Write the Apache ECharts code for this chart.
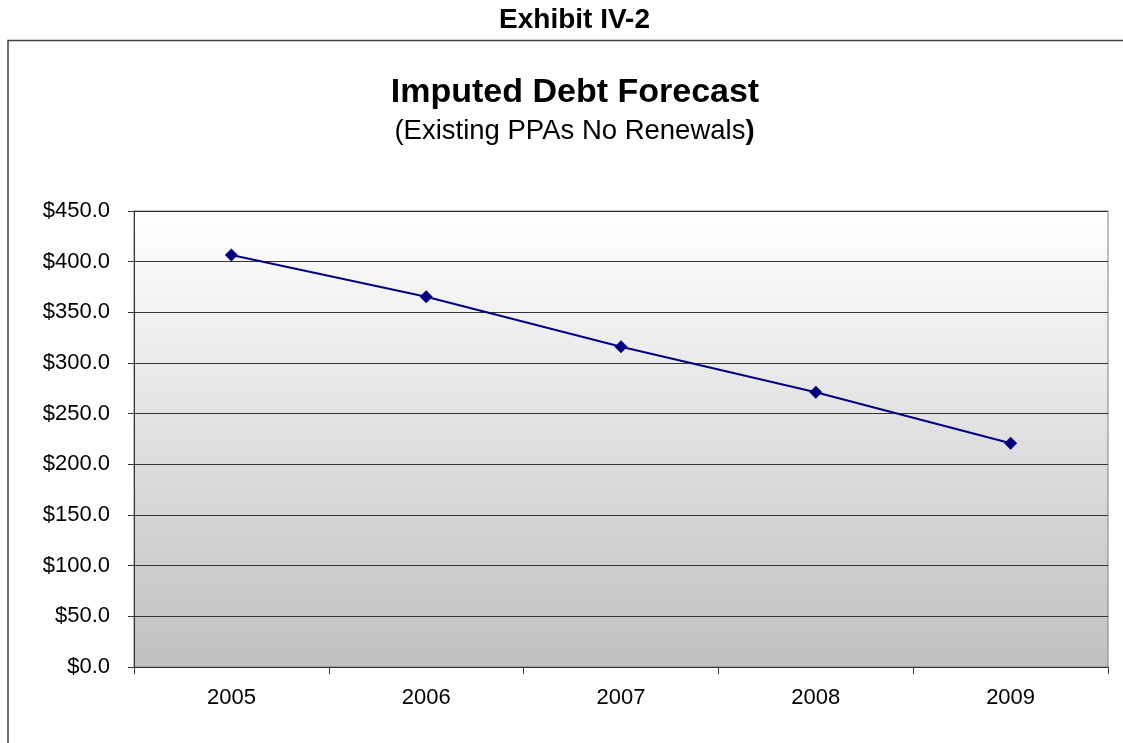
<!DOCTYPE html>
<html>
<head>
<meta charset="utf-8">
<script src="https://cdn.jsdelivr.net/npm/echarts@6/dist/echarts.min.js"></script>
<style>html,body{margin:0;padding:0;background:#fff;}#c{width:1123px;height:743px;}</style>
</head>
<body>
<div id="c"></div>
<script>
const categories = ['2005', '2006', '2007', '2008', '2009'];
const debtValues = [406.5, 365.4, 316.1, 271.1, 220.8];
const yMin = 0, yMax = 450, yStep = 50;
const exhibitText = 'Exhibit IV-2';
const titleText = 'Imputed Debt Forecast';
const subtitleMain = '(Existing PPAs No Renewals';
const subtitleClose = ')';

const FONT = 'Liberation Sans, Arial, sans-serif';
const chart = echarts.init(document.getElementById('c'));
chart.setOption({
  backgroundColor: '#ffffff',
  animation: false,
  graphic: [
    { type: 'polyline', silent: true, z: 100,
      shape: { points: [[8, 743], [8, 40.5], [1123, 40.5]] },
      style: { stroke: '#404040', lineWidth: 1.5, fill: null } },
    { type: 'text', silent: true, x: 574.5, y: 20,
      style: { text: exhibitText, align: 'center', verticalAlign: 'middle',
        font: 'bold 28px ' + FONT, fill: '#000' } },
    { type: 'text', silent: true, x: 575, y: 92.5,
      style: { text: titleText, align: 'center', verticalAlign: 'middle',
        font: 'bold 34px ' + FONT, fill: '#000' } },
    { type: 'text', silent: true, x: 574.5, y: 131,
      style: { text: subtitleMain + '{b|' + subtitleClose + '}', align: 'center', verticalAlign: 'middle',
        fontFamily: FONT, fontSize: 27.5, fontWeight: 'normal', fill: '#000',
        rich: { b: { fontFamily: FONT, fontSize: 27.5, fontWeight: 'bold', fill: '#000' } } } }
  ],
  grid: {
    left: 134, right: 15, top: 211, bottom: 76,
    show: true,
    borderColor: '#808080', borderWidth: 1,
    backgroundColor: new echarts.graphic.LinearGradient(0, 0, 0, 1, [
      { offset: 0, color: '#ffffff' },
      { offset: 1, color: '#c0c0c0' }
    ])
  },
  xAxis: {
    type: 'category',
    data: categories,
    boundaryGap: true,
    axisLine: { show: true, lineStyle: { color: '#333', width: 1 } },
    axisTick: { show: true, length: 7, lineStyle: { color: '#333' } },
    axisLabel: { fontFamily: FONT, fontSize: 22, color: '#000', margin: 20 },
    splitLine: { show: false }
  },
  yAxis: {
    type: 'value',
    min: yMin, max: yMax, interval: yStep,
    axisLine: { show: true, lineStyle: { color: '#333', width: 1 } },
    axisTick: { show: true, length: 6, lineStyle: { color: '#333' } },
    axisLabel: { fontFamily: FONT, fontSize: 22, color: '#000', margin: 24,
      formatter: v => '$' + v.toFixed(1) },
    splitLine: { show: true, lineStyle: { color: '#333', width: 1 } }
  },
  series: [{
    type: 'line',
    data: debtValues,
    symbol: 'diamond',
    symbolSize: 13,
    lineStyle: { color: '#000080', width: 2 },
    itemStyle: { color: '#000080' }
  }]
});
</script>
</body>
</html>
